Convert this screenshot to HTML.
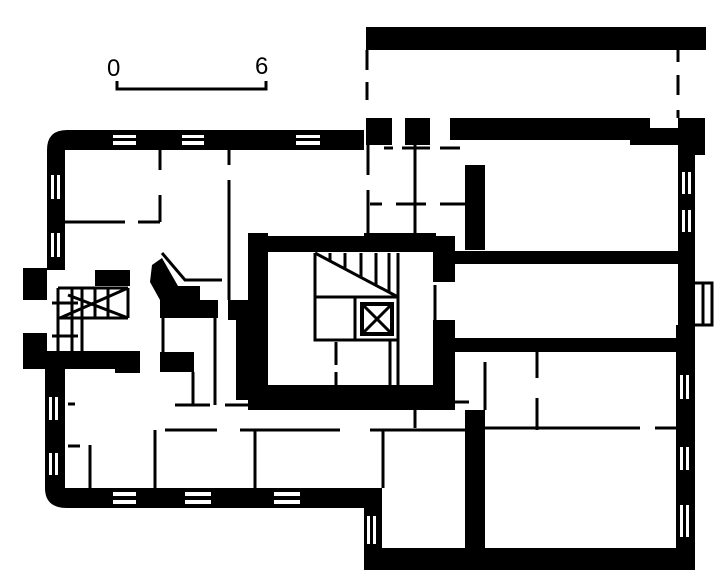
<!DOCTYPE html>
<html><head><style>body{margin:0;background:#fff}svg{display:block}</style></head><body>
<svg width="728" height="588" viewBox="0 0 728 588" xmlns="http://www.w3.org/2000/svg">
<rect width="728" height="588" fill="#fff"/>
<g font-family="Liberation Sans, sans-serif" font-size="24" fill="#000">
<text x="107" y="76">0</text><text x="255" y="74">6</text></g>
<path d="M117 81 V89 H266 V81" stroke="#000" stroke-width="3" fill="none"/>
<g fill="#000">
<path d="M47 150 Q47 130 67 130 H364 V150 H65 V270 H47 Z"/>
<path d="M45 362 H65 V488 H364 V508 H67 Q45 508 45 488 Z"/>
<rect x="23" y="268" width="24" height="32"/><rect x="23" y="333" width="24" height="28"/>
<rect x="95" y="270" width="35" height="16"/>
<rect x="23" y="351" width="117" height="18"/><rect x="115" y="351" width="25" height="22"/>
<rect x="366" y="27" width="340" height="23"/>
<rect x="450" y="118" width="200" height="22"/><rect x="630" y="128" width="48" height="17"/>
<rect x="678" y="118" width="27" height="37"/>
<rect x="366" y="118" width="26" height="27"/><rect x="405" y="118" width="25" height="27"/>
<rect x="678" y="155" width="17" height="170"/>
<rect x="676" y="325" width="19" height="245"/>
<rect x="364" y="548" width="331" height="22"/>
<rect x="364" y="488" width="18" height="70"/>
<rect x="465" y="165" width="20" height="85"/>
<rect x="440" y="251" width="238" height="13"/>
<rect x="364" y="233" width="72" height="8"/>
<rect x="433" y="240" width="22" height="42"/>
<rect x="248" y="233" width="20" height="177"/>
<rect x="248" y="236" width="207" height="16"/>
<rect x="248" y="385" width="207" height="25"/>
<rect x="433" y="320" width="22" height="90"/>
<rect x="455" y="338" width="223" height="14"/>
<rect x="465" y="410" width="20" height="138"/>
<polygon points="152,265 162,258 178,286 200,286 200,300 218,300 218,318 160,318 160,300 150,282"/>
<rect x="160" y="352" width="34" height="20"/>
<rect x="228" y="300" width="20" height="20"/>
<rect x="236" y="310" width="12" height="90"/>
</g>
<g fill="#fff">
<rect x="113" y="135" width="23" height="3"/><rect x="113" y="141" width="23" height="4"/>
<rect x="182" y="135" width="22" height="3"/><rect x="182" y="141" width="22" height="4"/>
<rect x="296" y="135" width="24" height="3"/><rect x="296" y="141" width="24" height="4"/>
<rect x="51" y="175" width="3" height="24"/><rect x="57" y="175" width="3" height="24"/>
<rect x="51" y="233" width="3" height="24"/><rect x="57" y="233" width="3" height="24"/>
<rect x="49" y="397" width="3" height="23"/><rect x="55" y="397" width="3" height="23"/>
<rect x="49" y="453" width="3" height="22"/><rect x="55" y="453" width="3" height="22"/>
<rect x="113" y="492" width="23" height="4"/><rect x="113" y="500" width="23" height="4"/>
<rect x="185" y="492" width="26" height="4"/><rect x="185" y="500" width="26" height="4"/>
<rect x="274" y="492" width="26" height="4"/><rect x="274" y="500" width="26" height="4"/>
<rect x="682" y="172" width="3" height="22"/><rect x="688" y="172" width="3" height="22"/>
<rect x="682" y="210" width="3" height="22"/><rect x="688" y="210" width="3" height="22"/>
<rect x="680" y="375" width="3" height="24"/><rect x="686" y="375" width="3" height="24"/>
<rect x="680" y="447" width="3" height="23"/><rect x="686" y="447" width="3" height="23"/>
<rect x="680" y="505" width="3" height="32"/><rect x="686" y="505" width="3" height="32"/>
<rect x="367" y="516" width="3" height="28"/><rect x="373" y="516" width="3" height="28"/>
</g>
<g stroke="#000" stroke-width="3" fill="none">
<path d="M367 50 V70 M367 82 V100 M678 50 V62 M678 75 V95 M678 110 V118"/>
<path d="M368 145 V175 M368 190 V235 M415 145 V233 M370 204 H382 M396 204 H426 M440 204 H465 M384 148 H393 M402 148 H430 M440 148 H460"/>
<path d="M160 150 V170 M160 195 V222 M65 222 H125 M138 222 H160 M229 150 V165 M229 180 V300"/>
<path d="M162 253 L185 280 H222"/>
<path d="M163 318 V352 M193 372 V405 M215 318 V405 M175 405 H210 M225 405 H255 M165 430 H217 M240 430 H340 M370 430 H470"/>
<path d="M155 430 V490 M255 430 V490 M383 430 V488 M90 445 V488 M68 446 H80"/>
<path d="M68 404 H75 M58 288 H128 M58 318 H128 M128 288 V318 M58 288 V352 M72 288 V352 M82 288 V352 M60 318 L128 288 M68 295 L128 318 M95 288 V318 M108 288 V318 M52 303 H78 M52 336 H78"/>
<path d="M469 428 H640 M655 428 H676 M537 352 V378 M537 398 V430 M485 362 V410 M454 402 H469 M415 410 V428 M435 285 V320"/>
<path d="M695 283 H712 V325 H695 M703 283 V325"/>
<path d="M315 253 V340 H398 V253 M315 297 H398 M355 297 V340 M315 253 L398 297 M330 253 V262 M345 253 V270 M361 253 V278 M376 253 V285 M389 253 V292 M336 342 V365 M336 372 V385 M390 340 V385 M398 340 V385"/>
<rect x="362" y="304" width="30" height="30" stroke-width="4"/>
<path d="M362 304 L392 334 M392 304 L362 334"/>
</g>
</svg>
</body></html>
